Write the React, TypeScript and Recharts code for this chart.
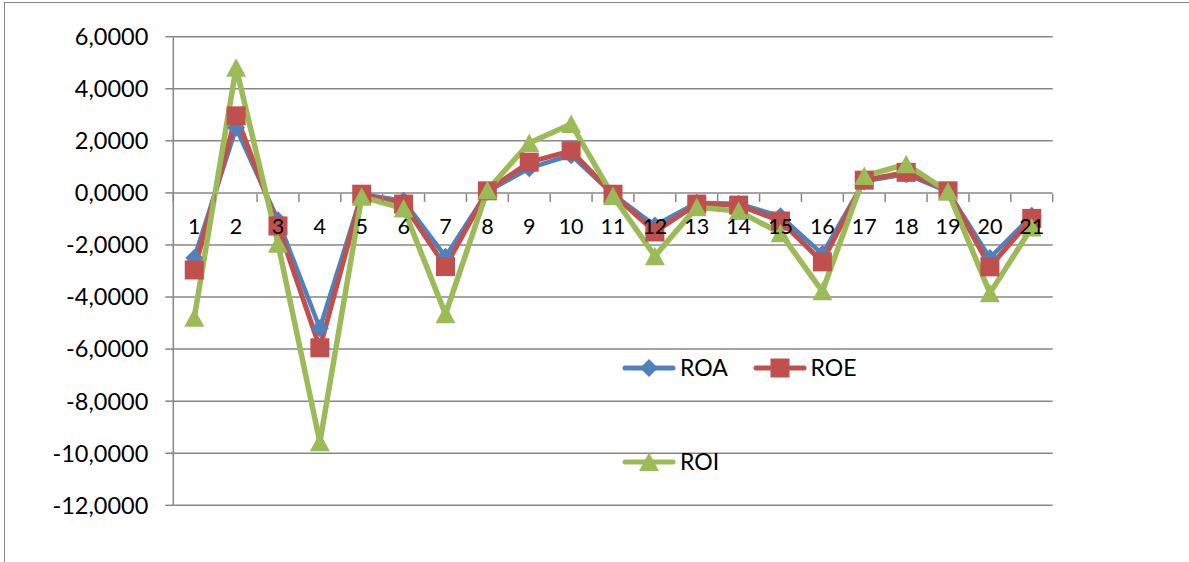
import { LineChart, Line, XAxis, YAxis, CartesianGrid, Legend } from 'recharts'

// periods 1..21 and the three ratios
const periods = [1, 2, 3, 4, 5, 6, 7, 8, 9, 10, 11, 12, 13, 14, 15, 16, 17, 18, 19, 20, 21]
const roa = [-2.5, 2.5, -1.05, -5.2, -0.05, -0.3, -2.45, 0.05, 0.95, 1.45, -0.05, -1.25, -0.38, -0.42, -0.9, -2.35, 0.45, 0.72, 0.05, -2.5, -0.88]
const roe = [-2.96, 2.96, -1.27, -5.95, -0.05, -0.43, -2.83, 0.08, 1.18, 1.62, -0.05, -1.5, -0.43, -0.47, -1.08, -2.65, 0.49, 0.79, 0.08, -2.84, -0.98]
const roi = [-4.8, 4.81, -1.95, -9.58, -0.15, -0.6, -4.66, 0.1, 1.92, 2.65, -0.12, -2.43, -0.55, -0.7, -1.55, -3.78, 0.65, 1.1, 0.05, -3.85, -1.33]
const yTicks = [-12, -10, -8, -6, -4, -2, 0, 2, 4, 6]

const data = periods.map((p, i) => ({ period: p, ROA: roa[i], ROE: roe[i], ROI: roi[i] }))
const edgeTicks = [...periods.map(p => p - 0.5), periods[periods.length - 1] + 0.5]

const BLUE = '#4F81BD'
const RED = '#C0504D'
const GREEN = '#9BBB59'
const GRID = '#878787'
const FONT = 'Lato, "Liberation Sans", sans-serif'

const W = 1189
const H = 562
const PLOT_TOP = 36.7
const PLOT_BOTTOM = 505.3
const AXIS_H = 1
const ZERO_FROM_BOTTOM = ((PLOT_BOTTOM - PLOT_TOP) * 12) / 18

const fmt = (v: number) => v.toFixed(4).replace('.', ',')

function CategoryTick({ x, y, payload }: any) {
  return (
    <text x={x} y={y - ZERO_FROM_BOTTOM + 41.5} textAnchor="middle" fontSize={21.5} fill="#000" fontFamily={FONT}>
      {payload.value}
    </text>
  )
}

function EdgeTick({ x, y }: any) {
  const y0 = y - ZERO_FROM_BOTTOM
  return <line x1={x} x2={x} y1={y0} y2={y0 + 8} stroke={GRID} strokeWidth={1.5} />
}

function DiamondDot({ cx, cy, color }: any) {
  if (cx == null || cy == null) return null
  return <path d={`M${cx},${cy - 9} L${cx + 9},${cy} L${cx},${cy + 9} L${cx - 9},${cy} Z`} fill={color ?? BLUE} />
}

function SquareDot({ cx, cy, color }: any) {
  if (cx == null || cy == null) return null
  return <rect x={cx - 9.5} y={cy - 9.5} width={19} height={19} fill={color ?? RED} />
}

function TriangleDot({ cx, cy, color }: any) {
  if (cx == null || cy == null) return null
  return <path d={`M${cx},${cy - 9.5} L${cx + 10},${cy + 9} L${cx - 10},${cy + 9} Z`} fill={color ?? GREEN} />
}

const markers: Record<string, any> = { ROA: DiamondDot, ROE: SquareDot, ROI: TriangleDot }

function LegendContent({ payload }: any) {
  return (
    <div style={{ display: 'grid', gridTemplateColumns: '130.6px 130.6px', gridAutoRows: '94.3px', fontFamily: FONT }}>
      {(payload || []).map((entry: any) => {
        const Marker = markers[entry.value]
        return (
          <div key={entry.value} style={{ display: 'flex', alignItems: 'center' }}>
            <svg width={57} height={22} style={{ display: 'block' }}>
              <line x1={3} x2={51} y1={11} y2={11} stroke={entry.color} strokeWidth={5} strokeLinecap="round" />
              <Marker cx={27} cy={11} color={entry.color} />
            </svg>
            <span style={{ fontSize: 23, color: '#000', marginLeft: 1, lineHeight: 1 }}>{entry.value}</span>
          </div>
        )
      })}
    </div>
  )
}

export default function App() {
  return (
    <div style={{ position: 'fixed', left: 0, top: 0, width: W, height: H, overflow: 'hidden', background: '#fff', fontFamily: FONT }}>
      <div style={{ position: 'absolute', left: 4, top: 2, width: 1400, height: 800, borderLeft: `1.5px solid ${GRID}`, borderTop: `1.5px solid ${GRID}` }} />
      <div style={{ position: 'absolute', left: 0, top: 0 }}>
        <LineChart width={W} height={H} data={data} margin={{ top: PLOT_TOP, right: W - 1052.7, bottom: H - PLOT_BOTTOM - 2 * AXIS_H, left: 73.3 }}>
          <CartesianGrid vertical={false} stroke={GRID} strokeWidth={1.5} />
          <XAxis
            dataKey="period"
            type="number"
            domain={[0.5, 21.5]}
            ticks={periods}
            interval={0}
            height={AXIS_H}
            axisLine={false}
            tickLine={false}
            tickSize={0}
            tickMargin={0}
            tick={<CategoryTick />}
          />
          <XAxis
            xAxisId="edges"
            dataKey="period"
            type="number"
            domain={[0.5, 21.5]}
            ticks={edgeTicks}
            interval={0}
            height={AXIS_H}
            axisLine={false}
            tickLine={false}
            tickSize={0}
            tickMargin={0}
            tick={<EdgeTick />}
          />
          <YAxis
            width={100}
            domain={[-12, 6]}
            ticks={yTicks}
            interval={0}
            tickFormatter={fmt}
            tickSize={8}
            tickMargin={17}
            axisLine={{ stroke: GRID, strokeWidth: 1.5 }}
            tickLine={{ stroke: GRID, strokeWidth: 1.5 }}
            tick={{ fill: '#000', fontSize: 23.5, fontFamily: FONT }}
          />
          <Legend
            layout="vertical"
            align="center"
            verticalAlign="middle"
            content={<LegendContent />}
            wrapperStyle={{ left: 622, top: 320.5, width: 270 }}
          />
          <Line dataKey="ROA" name="ROA" stroke={BLUE} strokeWidth={4.5} dot={<DiamondDot color={BLUE} />} activeDot={false} isAnimationActive={false} />
          <Line dataKey="ROE" name="ROE" stroke={RED} strokeWidth={5} dot={<SquareDot color={RED} />} activeDot={false} isAnimationActive={false} />
          <Line dataKey="ROI" name="ROI" stroke={GREEN} strokeWidth={5.5} dot={<TriangleDot color={GREEN} />} activeDot={false} isAnimationActive={false} />
        </LineChart>
      </div>
    </div>
  )
}
